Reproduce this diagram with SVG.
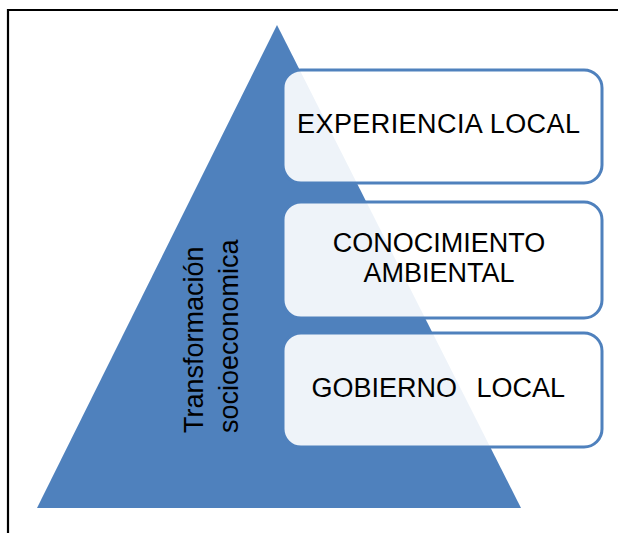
<svg xmlns="http://www.w3.org/2000/svg" width="619" height="533" viewBox="0 0 619 533">
  <style>
    .box { fill: #ffffff; fill-opacity: 0.9; stroke: #4F81BD; stroke-width: 3; }
    .lbl { font-family: "Liberation Sans", Arial, sans-serif; font-size: 27px; fill: #000000; }
    .mid { text-anchor: middle; }
  </style>
  <rect x="0" y="0" width="619" height="533" fill="#ffffff"/>
  <path id="frame" d="M8,533 V10 H618" fill="none" stroke="#000000" stroke-width="2.2"/>
  <g id="pyramid">
    <polygon points="277,25 521,508 37,508" fill="#4F81BD"/>
  </g>
  <g id="axis-label">
    <text class="lbl" transform="translate(203,433) rotate(-90)">Transformación</text>
    <text class="lbl" transform="translate(238,433) rotate(-90)">socioeconomica</text>
  </g>
  <g id="experiencia-local">
    <rect class="box" x="283" y="70" width="319" height="113" rx="18" ry="18"/>
    <text class="lbl" x="297" y="133" textLength="283" lengthAdjust="spacing">EXPERIENCIA LOCAL</text>
  </g>
  <g id="conocimiento-ambiental">
    <rect class="box" x="283" y="202" width="319" height="116" rx="18" ry="18"/>
    <text class="lbl mid" x="439" y="252">CONOCIMIENTO</text>
    <text class="lbl mid" x="439" y="282">AMBIENTAL</text>
  </g>
  <g id="gobierno-local">
    <rect class="box" x="283" y="333" width="319" height="114" rx="18" ry="18"/>
    <text class="lbl"><tspan x="311.5" y="397">GOBIERNO</tspan><tspan x="476.5" y="397">LOCAL</tspan></text>
  </g>
</svg>
